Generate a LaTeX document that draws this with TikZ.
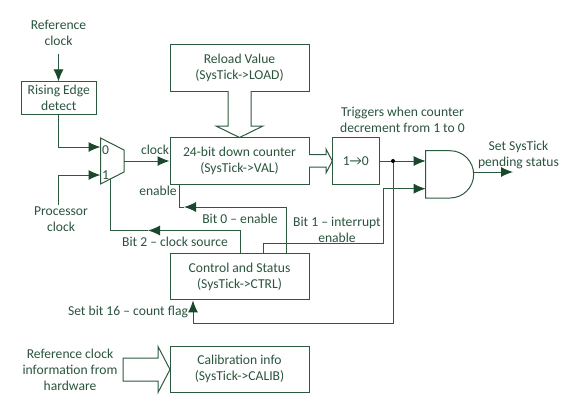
\documentclass[tikz,border=0pt]{standalone}
\usepackage{fontspec}
\setmainfont{Carlito}
\usepackage{xcolor}
\usetikzlibrary{arrows.meta,calc}
\definecolor{figline}{RGB}{44,90,62}
\definecolor{figtext}{RGB}{42,84,62}
\definecolor{fighead}{RGB}{26,72,44}
\tikzset{
  wire/.style ={draw=figline, line width=1pt},
  ptr/.style  ={wire, -{Latex[length=12pt,width=10pt,fill=fighead,color=fighead]}},
  hollow/.style={draw=figline, line width=1pt, fill=white, line join=miter},
  blk/.style  ={draw=figline, line width=1pt, minimum width=139pt, minimum height=46.5pt, inner sep=0pt},
  lab/.style  ={font=\fontsize{13.6}{16}\selectfont, text=figtext, inner sep=0pt, align=center},
}
\begin{document}
\begin{tikzpicture}[x=1pt,y=-1pt]
  \useasboundingbox (0,0) rectangle (571,413);
  % boxes
  \node[blk,lab] (reload) at (239.5,68) {Reload Value\\(SysTick->LOAD)};
  \node[blk,lab] (val) at (239.5,161) {24-bit down counter\\(SysTick->VAL)};
  \node[blk,lab] (ctrl) at (239.5,276.7) {Control and Status\\(SysTick->CTRL)};
  \node[blk,lab] (calib) at (239.5,369.3) {Calibration info\\(SysTick->CALIB)};
  \node[blk,lab,minimum width=74.5pt,minimum height=32.5pt] (edge) at (58.8,98.2) {Rising Edge\\detect};
  \node[blk,lab,minimum width=46.5pt] (trig) at (355.8,161) {1→0};
  % mux and gate
  \draw[wire] (100.5,138) -- (124,150) -- (124,172) -- (100.5,184) -- cycle;
  \coordinate (mux0) at (100.5,147);
  \coordinate (mux1) at (100.5,175);
  \coordinate (muxout) at (124,161);
  \coordinate (muxsel) at (110,178.5);
  \draw[wire] (425.7,150.7) -- (450,150.7) arc[start angle=-90,end angle=90,radius=23.65] -- (425.7,198) -- cycle;
  \coordinate (andin0) at (425.7,161);
  \coordinate (andin1) at (425.7,188.7);
  \coordinate (andout) at (473.6,172);
  \coordinate (pendend) at (513,172);
  % labels
  \node[lab] (refclk) at (58.5,33) {Reference\\clock};
  \node[lab] (procclk) at (61,219) {Processor\\clock};
  \node[lab] (in0) at (105.5,150) {0};
  \node[lab] (in1) at (105.5,175) {1};
  \node[lab] (clk) at (155,149.5) {clock};
  \node[lab] (en) at (158,191) {enable};
  \node[lab] (bit0) at (240,219) {Bit 0 -- enable};
  \node[lab] (bit2) at (175,242) {Bit 2 -- clock source};
  \node[lab] (bit1) at (337,230) {Bit 1 -- interrupt\\enable};
  \node[lab] (bit16) at (128,312) {Set bit 16 -- count flag};
  \node[lab] (trg) at (402.5,120) {Triggers when counter\\decrement from 1 to 0};
  \node[lab] (pend) at (518.5,155) {Set SysTick\\pending status};
  \node[lab] (refinfo) at (70,369.5) {Reference clock\\information from\\hardware};
  % wires
  \coordinate (refend) at (58.5,54);
  \draw[ptr] (refend) -- (refend |- edge.north);
  \draw[ptr] (edge.south) |- (mux0);
  \coordinate (procend) at (58.5,205);
  \draw[ptr] (procend) |- (mux1);
  \draw[ptr] (muxout) -- (val.west |- muxout);
  \coordinate (b0) at ($(ctrl.north)+(46.5,0)$);
  \coordinate (b0m) at (184,207);
  \coordinate (b0end) at (179.5,184);
  \draw[ptr] (b0) |- (b0m);
  \draw[wire] (b0m) -| (b0end);
  \coordinate (b2) at ($(ctrl.north)+(0.5,0)$);
  \coordinate (b2m) at (148,230.5);
  \draw[ptr] (b2) |- (b2m);
  \draw[wire] (b2m) -| (muxsel);
  \coordinate (b1) at ($(ctrl.north)+(23.5,0)$);
  \coordinate (b1m) at (383.7,243);
  \draw[wire] (b1) |- (b1m);
  \draw[ptr] (b1m) |- (andin1);
  \draw[ptr] (trig.east) -- (andin0);
  \node[circle,fill=black,inner sep=0pt,minimum size=4pt] (tap) at (393,161) {};
  \coordinate (flag) at ($(ctrl.south)+(-46.5,0)$);
  \coordinate (flagm) at ($(flag)+(0,23)$);
  \draw[wire] (tap) |- (flagm);
  \draw[ptr] (flagm) -- (flag);
  \draw[ptr] (andout) -- (pendend);
  % hollow arrows
  \draw[hollow] (228,91.2) -- (228,126) -- (216,126) -- (239.5,137.5) -- (263,126) -- (251,126) -- (251,91.2);
  \draw[hollow] (309,154.5) -- (326,154.5) -- (326,149) -- (332.3,161) -- (326,173) -- (326,167) -- (309,167);
  \draw[hollow] (123,358) -- (158,358) -- (158,346.5) -- (170,369.5) -- (158,392.5) -- (158,381) -- (123,381) -- cycle;
\end{tikzpicture}
\end{document}
